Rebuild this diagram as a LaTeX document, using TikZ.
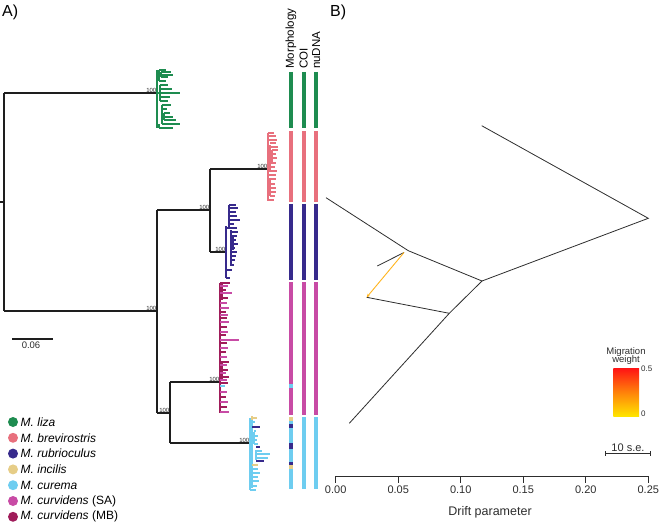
\documentclass[tikz,border=0pt]{standalone}
\usepackage{fontspec}
\setmainfont{Liberation Sans}
\usetikzlibrary{arrows.meta}
\definecolor{cliza}{RGB}{30,140,80}
\definecolor{cbrev}{RGB}{232,112,125}
\definecolor{crub}{RGB}{55,42,140}
\definecolor{cinc}{RGB}{230,205,135}
\definecolor{ccur}{RGB}{110,205,240}
\definecolor{csa}{RGB}{200,75,165}
\definecolor{cmb}{RGB}{160,28,90}
\definecolor{treeblack}{RGB}{30,30,30}
\definecolor{mixgray}{RGB}{45,45,45}
\definecolor{migor}{RGB}{255,180,30}
\begin{document}
\begin{tikzpicture}[x=1pt,y=-1pt,
  tree/.style={draw=treeblack,line width=1.3pt},
  clade/.style={line width=1.2pt},
  bs/.style={font=\fontsize{6}{6}\selectfont,inner sep=0.5pt,anchor=south east,text=mixgray},
  barseg/.style={line width=4pt},
  mix/.style={draw=mixgray,line width=0.8pt},
  leg/.style={font=\fontsize{12}{14}\selectfont,anchor=west,inner sep=0pt},
  legdot/.style={circle,minimum size=10pt,inner sep=0pt},
  collab/.style={font=\fontsize{11.5}{12}\selectfont,rotate=90,anchor=west,inner sep=0pt},
  ticklab/.style={font=\fontsize{11}{12}\selectfont,anchor=north,inner sep=0pt}]
\useasboundingbox (0,0) rectangle (659,524);

% panel labels
\node[font=\fontsize{16}{18}\selectfont,anchor=west,inner sep=0pt] (labA) at (2,12) {A)};
\node[font=\fontsize{16}{18}\selectfont,anchor=west,inner sep=0pt] (labB) at (330,12) {B)};

% ---------- backbone tree ----------
\draw[tree] (0,202) -- (4,202);
\draw[tree] (4,93) -- (4,311);
\draw[tree] (4,93) -- (157,93);
\draw[tree] (4,311) -- (157,311);
\draw[tree] (157,210) -- (157,413);
\draw[tree] (157,210) -- (210,210);
\draw[tree] (210,169) -- (210,252);
\draw[tree] (210,169) -- (268,169);
\draw[tree] (210,252) -- (226,252);
\draw[tree] (157,413) -- (170,413);
\draw[tree] (170,382) -- (170,443);
\draw[tree] (170,382) -- (220,382);
\draw[tree] (170,443) -- (250,443);

% bootstrap labels
\node[bs] (b1) at (157,93) {100};
\node[bs] (b2) at (157,311) {100};
\node[bs] (b3) at (210,210) {100};
\node[bs] (b4) at (268,169) {100};
\node[bs] (b5) at (226,252) {100};
\node[bs] (b6) at (170,413) {100};
\node[bs] (b7) at (220,382) {100};
\node[bs] (b8) at (250,443) {100};

% ---------- clades ----------
% M. liza
\draw[clade,cliza] (157,70) -- (157,128);
\draw[clade,cliza] (159,70) -- (159,81) (161,72) -- (161,77) (160,85) -- (160,101)
  (162,105) -- (162,124) (164,113) -- (164,120) (159,124) -- (159,128);
\foreach \y/\a/\b in {70/159/166,72/161/171,75/161/173,77/161/168,81/159/166,85/160/168,
  89/160/172,93/157/180,97/160/170,101/160/168,105/162/171,109/162/167,113/164/170,
  117/164/173,120/164/176,124/162/180,128/159/173}
  {\draw[clade,cliza] (\a,\y) -- (\b,\y);}

% M. brevirostris
\draw[clade,cbrev] (268,133) -- (268,201);
\draw[clade,cbrev] (270,145) -- (270,170) (272,150) -- (272,162) (270,180) -- (270,196);
\foreach \y/\a/\b in {133/268/274,136/269/276,140/269/277,143/270/276,147/270/278,150/272/278,
  154/272/276,158/270/277,163/270/276,167/270/275,171/268/277,175/268/276,179/268/276,
  184/270/275,188/270/276,192/270/276,196/270/275,200/268/274}
  {\draw[clade,cbrev] (\a,\y) -- (\b,\y);}

% M. rubrioculus
\draw[clade,crub] (226,226) -- (226,278);
\draw[clade,crub] (229,205) -- (229,228) (231,230) -- (231,266) (233,236) -- (233,250);
\foreach \y/\a/\b in {205/229/236,208/229/238,212/229/236,216/229/237,220/229/240,224/229/234,
  228/226/237,232/231/238,236/231/237,240/233/236,244/233/238,248/233/235,252/231/237,
  256/231/236,260/231/235,265/231/234,270/226/232,278/226/230}
  {\draw[clade,crub] (\a,\y) -- (\b,\y);}

% M. curvidens
\draw[clade,cmb] (220,283) -- (220,413);
\draw[clade,cmb] (222,283) -- (222,300) (222,362) -- (222,380);
\foreach \y/\b/\c in {283/230/cmb,286/228/csa,290/226/cmb,293/232/csa,298/228/cmb,303/227/csa,
  308/229/csa,312/226/cmb,315/228/csa,318/227/cmb,322/229/csa,327/227/cmb,332/228/csa,
  335/226/cmb,340/239/csa,343/227/cmb,348/228/csa,352/226/cmb,357/227/csa,362/229/cmb,
  365/227/csa,370/228/cmb,373/226/csa,377/229/cmb,380/227/csa,383/228/cmb,
  392/227/csa,397/226/cmb,402/228/csa,407/227/cmb,412/229/csa}
  {\draw[clade,\c] (220,\y) -- (\b,\y);}
\draw[clade,ccur] (220,386) -- (225,386);

% M. curema (with incilis / rubrioculus)
\draw[clade,ccur] (250,418) -- (250,490);
\draw[clade,ccur] (252,420) -- (252,488) (254,432) -- (254,444) (256,450) -- (256,460);
\draw[clade,cinc] (252,416) -- (252,420);
\foreach \y/\a/\b/\c in {418/252/257/cinc,422/252/255/ccur,427/252/260/crub,431/254/256/ccur,
  436/254/258/ccur,440/254/257/ccur,444/254/258/ccur,447/256/260/crub,451/256/262/ccur,
  454/256/270/ccur,458/256/268/ccur,461/256/264/crub,465/252/258/cinc,469/252/258/ccur,
  473/252/260/ccur,477/252/258/ccur,481/252/259/ccur,486/252/257/ccur,490/250/256/ccur}
  {\draw[clade,\c] (\a,\y) -- (\b,\y);}

% ---------- bars ----------
\foreach \x in {290.7,303.5,316}{
  \draw[barseg,cliza] (\x,72) -- (\x,128);
  \draw[barseg,cbrev] (\x,131) -- (\x,202);
  \draw[barseg,crub] (\x,204) -- (\x,280);
  \draw[barseg,csa] (\x,282) -- (\x,415);
  \draw[barseg,ccur] (\x,417) -- (\x,489);
}
\draw[barseg,ccur] (290.7,384) -- (290.7,388);
\draw[barseg,cinc] (290.7,417) -- (290.7,421);
\draw[barseg,crub] (290.7,424) -- (290.7,428);
\draw[barseg,crub] (290.7,443) -- (290.7,449);
\draw[barseg,crub] (290.7,462) -- (290.7,465);
\draw[barseg,cinc] (290.7,465) -- (290.7,469);

\node[collab] (cm) at (290.9,69) {Morphology};
\node[collab] (cc) at (303.7,69) {COI};
\node[collab] (cn) at (316.2,69) {nuDNA};

% scale bar
\draw[line width=1.2pt,treeblack] (12,339) -- (53,339);
\node[font=\fontsize{9.5}{10}\selectfont,anchor=north,inner sep=0pt,text=mixgray] (sc) at (31,342) {0.06};

% legend
\foreach \i/\c/\t in {0/cliza/{\textit{M. liza}},1/cbrev/{\textit{M. brevirostris}},
  2/crub/{\textit{M. rubrioculus}},3/cinc/{\textit{M. incilis}},4/ccur/{\textit{M. curema}},
  5/csa/{\textit{M. curvidens} (SA)},6/cmb/{\textit{M. curvidens} (MB)}}
{
  \node[legdot,fill=\c] (dot\i) at (13,422+15.8*\i) {};
  \node[leg] (lt\i) at (20.5,422+15.8*\i) {\t};
}

% ---------- panel B ----------
\coordinate (t1) at (481.7,125.7);
\coordinate (r1) at (648.3,218.3);
\coordinate (j1) at (482,281);
\coordinate (j2) at (408.3,250.7);
\coordinate (t2) at (326,197.7);
\coordinate (m1) at (404,252.5);
\coordinate (t3) at (377.3,266);
\coordinate (j3) at (449.3,313.3);
\coordinate (t4) at (366.7,297.3);
\coordinate (t5) at (349.3,423.3);
\draw[mix] (t1) -- (r1) -- (j1);
\draw[mix] (j1) -- (j2) -- (t2);
\draw[mix] (m1) -- (t3);
\draw[mix] (j1) -- (j3) -- (t5);
\draw[mix] (j3) -- (t4);
\draw[migor,line width=0.9pt,-{Stealth[length=3.5pt,width=3pt]}] (m1) -- (t4);

% colour key
\node[font=\fontsize{9.5}{10}\selectfont,align=center,inner sep=0pt,text=mixgray] (mw) at (626,356.5) {Migration\\[-2pt]weight};
\shade[top color={rgb,255:red,255;green,20;blue,20},bottom color={rgb,255:red,255;green,228;blue,0},
  middle color={rgb,255:red,255;green,130;blue,10}] (613.3,368.3) rectangle (639,416);
\node[font=\fontsize{8}{8}\selectfont,anchor=west,inner sep=0pt,text=mixgray] (k1) at (641,369) {0.5};
\node[font=\fontsize{8}{8}\selectfont,anchor=west,inner sep=0pt,text=mixgray] (k0) at (641,414) {0};

% 10 s.e. bar
\coordinate (se1) at (605.7,453.3);
\coordinate (se2) at (650,453.3);
\draw[mix] (se1) -- (se2);
\draw[mix] (605.7,451) -- (605.7,455.6) (650,451) -- (650,455.6);
\node[font=\fontsize{11}{12}\selectfont,anchor=south,inner sep=0pt,text=mixgray] (se) at (628,451.5) {10 s.e.};

% axis
\draw[mix] (335.7,476) -- (648.3,476);
\foreach \v/\l [count=\k] in {0/0.00,1/0.05,2/0.10,3/0.15,4/0.20,5/0.25}{
  \draw[mix] (335.7+62.52*\v,476) -- (335.7+62.52*\v,483);
  \node[ticklab,text=mixgray] (tl\k) at (335.7+62.52*\v,486) {\l};
}
\node[font=\fontsize{12.5}{14}\selectfont,inner sep=0pt,text=mixgray] (ax) at (490,512.5) {Drift parameter};

\end{tikzpicture}
\end{document}
